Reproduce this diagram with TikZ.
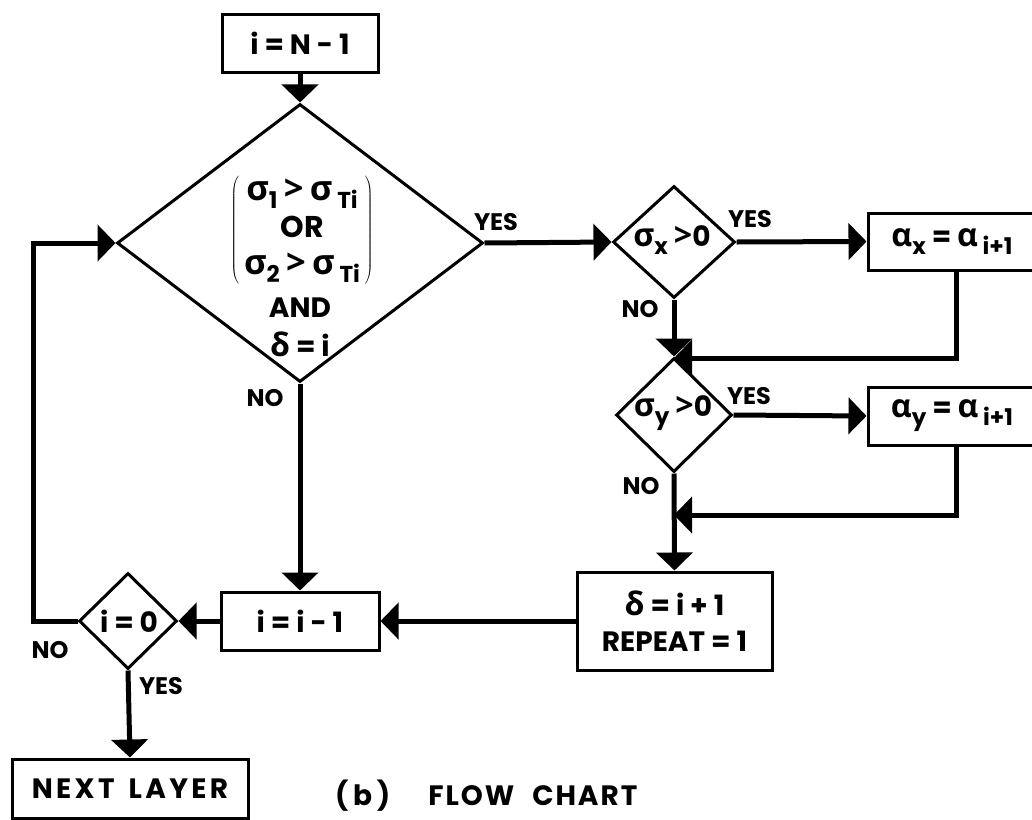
\documentclass[tikz,border=0pt]{standalone}
\usepackage{fontspec}
\setmainfont{Poppins}
\newfontfamily\gk{Open Sans}[Scale=1.15]
\newfontfamily\lsp{Poppins}[LetterSpace=12]
\newfontfamily\lsc{Poppins}[LetterSpace=7]
\usetikzlibrary{arrows.meta,shapes.geometric}
\newcommand\sg{{\gk\bfseries σ}}
\newcommand\al{{\gk\bfseries α}}
\newcommand\dl{{\gk\bfseries δ}}
\newcommand\gt{{\gk\bfseries >}}
\newcommand\sbs[1]{\raisebox{-8pt}{\fontsize{23}{23}\selectfont #1}}
\begin{document}
\begin{tikzpicture}[x=1pt,y=-1pt,
  every node/.style={font=\fontsize{28}{36}\selectfont\bfseries},
  box/.style={draw, line width=3pt, rectangle, inner sep=0pt},
  dia/.style={draw, line width=3pt, diamond, inner sep=0pt},
  txt/.style={inner sep=0pt},
  lbl/.style={font=\fontsize{24}{26}\selectfont\bfseries, inner sep=0pt},
  conn/.style={line width=5pt, -{Triangle[length=18pt,width=36pt]}}]
\clip (0,0) rectangle (1032,819);
% nodes
\node[box, minimum width=156pt, minimum height=58pt] (start) at (300,43) {i = N - 1};
\node[dia, minimum width=366pt, minimum height=278pt] (d1) at (300,243) {};
\node[txt, font=\fontsize{30}{37}\selectfont\bfseries] (d1a) at (302,230) {$\left(\hspace{5pt}\begin{tabular}{@{}c@{}}\sg\sbs{1} \gt\ \sg\,\sbs{Ti}\\ OR\\ \sg\sbs{2} \gt\ \sg\,\sbs{Ti}\end{tabular}\hspace{5pt}\right)$};
\node[txt] (d1b) at (300,308) {AND};
\node[txt] (d1c) at (300,344) {\dl\ = i};
\node[dia, minimum width=122pt, minimum height=112pt] (dx) at (674,242) {};
\node[txt] (dxt) at (672,240) {\sg\sbs{x} \gt0};
\node[box, minimum width=176pt, minimum height=57pt] (ax) at (956,241.5) {\hspace*{-8pt}\al\sbs{x} = \al\,\sbs{i+1}};
\node[dia, minimum width=116pt, minimum height=114pt] (dy) at (674,415) {};
\node[txt] (dyt) at (673,413) {\sg\sbs{y} \gt0};
\node[box, minimum width=176pt, minimum height=58pt] (ay) at (956,416) {\hspace*{-8pt}\al\sbs{y} = \al\,\sbs{i+1}};
\node[box, minimum width=195pt, minimum height=98pt, align=center] (db) at (674.5,621) {\dl\ = i + 1\\ REPEAT = 1};
\node[box, minimum width=158pt, minimum height=58pt] (im) at (300,621) {i = i - 1};
\node[dia, minimum width=98pt, minimum height=96pt] (d0) at (128,621) {};
\node[txt] (d0t) at (129,621) {i = 0};
\node[box, minimum width=236pt, minimum height=59pt] (nl) at (130,788.5) {{\lsp NEXT}\hspace{14pt}{\lsp LAYER}};
\coordinate (lp) at (33,621);
\coordinate (j1) at (674,358);
\coordinate (j2) at (674,515);
% labels
\node[lbl] (y1) at (496,222) {YES};
\node[lbl] (n1) at (265,398) {NO};
\node[lbl] (y2) at (750,219) {YES};
\node[lbl] (n2) at (640,309) {NO};
\node[lbl] (y3) at (749,396) {YES};
\node[lbl] (n3) at (641,486) {NO};
\node[lbl] (n4) at (50,650) {NO};
\node[lbl] (y4) at (161,686) {YES};
\node[anchor=base west, inner sep=0pt] (cap) at (335,805) {{\lsc(\,b\,)}\hspace{38pt}{\lsc FLOW}\hspace{18pt}{\lsc CHART}};
% connectors
\draw[conn] (start) -- (d1);
\draw[conn] (d1.east) -- (dx.west);
\draw[conn] (dx.east) -- (ax.west);
\draw[conn] (dx.south) -- (dy.north);
\draw[conn] (ax.south) |- (j1);
\draw[conn] (dy.east) -- (ay.west);
\draw[conn] (dy.south) -- (db.north);
\draw[conn] (ay.south) |- (j2);
\draw[conn] (db.west) -- (im.east);
\draw[conn] (d1.south) -- (im.north);
\draw[conn] (im.west) -- (d0.east);
\draw[conn] (d0.west) -- (lp) |- (d1.west);
\draw[conn] (d0.south) -- (nl.north);
\end{tikzpicture}
\end{document}
